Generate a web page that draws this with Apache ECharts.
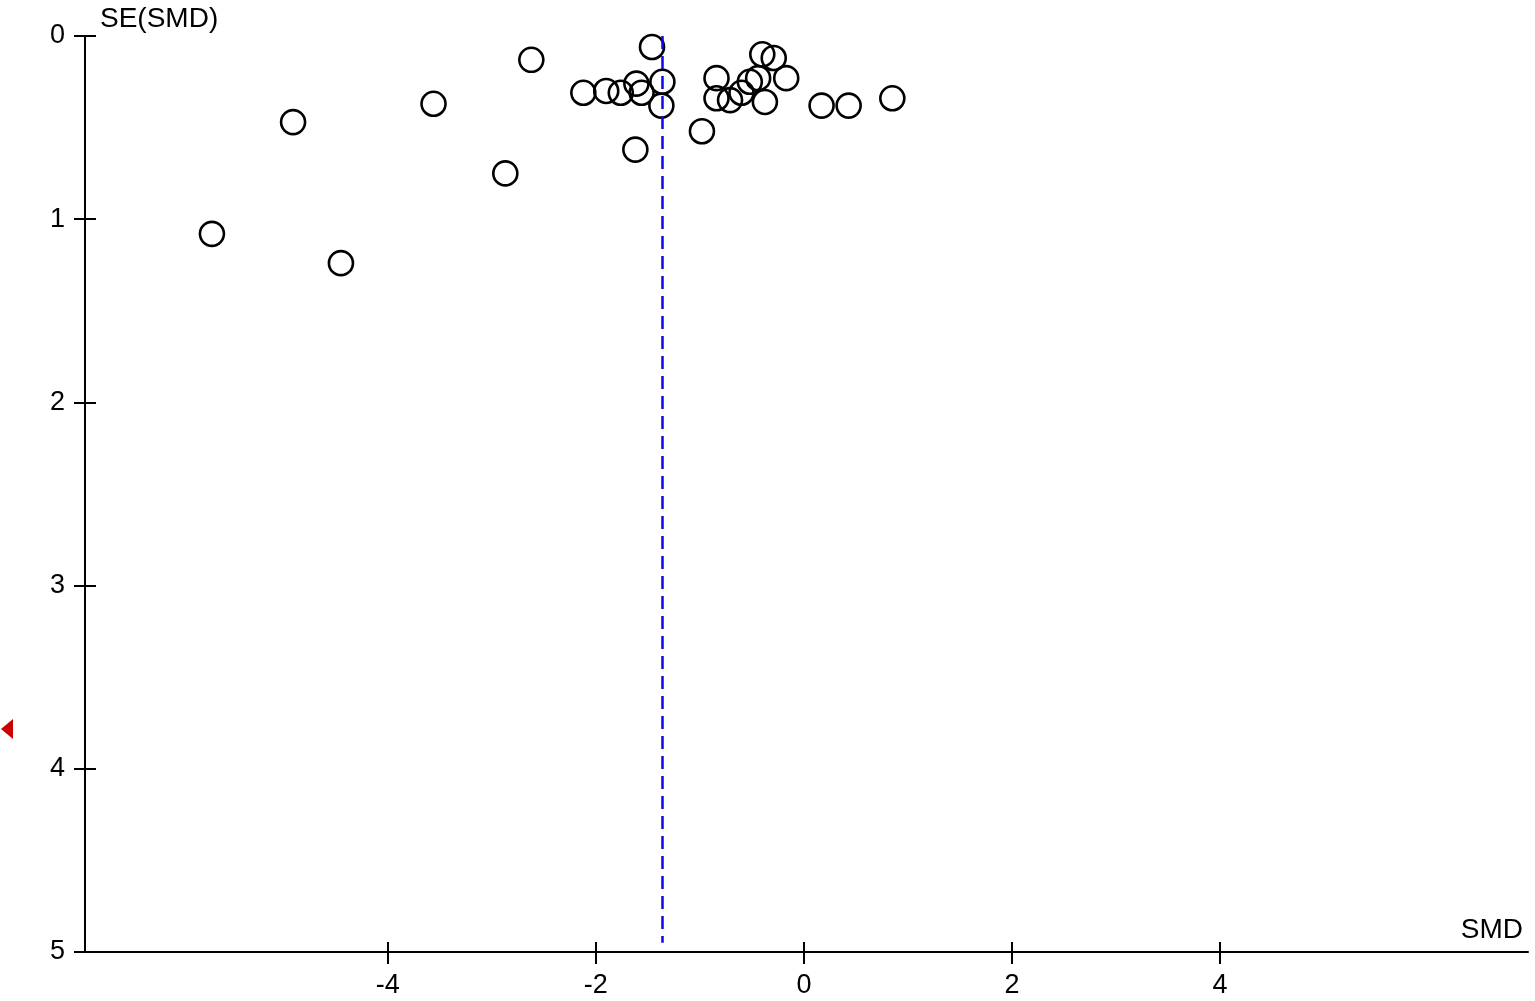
<!DOCTYPE html>
<html>
<head>
<meta charset="utf-8">
<script src="https://cdn.jsdelivr.net/npm/echarts@6/dist/echarts.min.js"></script>
<style>
  html, body { margin: 0; padding: 0; background: #fff; }
  #chart { width: 1535px; height: 1001px; }
</style>
</head>
<body>
<div id="chart"></div>
<script>
// funnel plot: SMD against SE(SMD)
var smd = [-5.69, -4.91, -4.45, -3.56, -2.87, -2.62, -2.12, -1.90, -1.76, -1.61,
           -1.56, -1.46, -1.36, -1.37, -1.62, -0.98, -0.84, -0.84, -0.71, -0.60,
           -0.52, -0.44, -0.40, -0.29, -0.17, -0.375, 0.17, 0.43, 0.85];
var se = [1.08, 0.47, 1.24, 0.37, 0.75, 0.13, 0.31, 0.30, 0.31, 0.26,
          0.31, 0.06, 0.25, 0.38, 0.62, 0.52, 0.23, 0.34, 0.35, 0.31,
          0.25, 0.23, 0.10, 0.12, 0.23, 0.36, 0.38, 0.38, 0.34];
var pooled = -1.36;
var xTicks = [-4, -2, 0, 2, 4];
var yTicks = [0, 1, 2, 3, 4, 5];
var yInnerTicks = [0, 1, 2, 3, 4];

var points = smd.map(function(v, i) { return [v, se[i]]; });

var font = "'Liberation Sans', Arial, sans-serif";
var chart = echarts.init(document.getElementById('chart'));

var option = {
    animation: false,
    backgroundColor: '#fff',
    grid: { left: 85, right: 7, top: 36, bottom: 49, containLabel: false },
    xAxis: [{
        type: 'value',
        position: 'bottom',
        min: -6.91,
        max: 6.96,
        name: 'SMD',
        nameLocation: 'end',
        nameGap: -5,
        nameTextStyle: { color: '#000', fontSize: 28, fontFamily: font,
                         align: 'right', verticalAlign: 'bottom', padding: [0, 0, 8, 0] },
        axisLine: { onZero: false, lineStyle: { color: '#000', width: 2 } },
        axisTick: { show: true, length: 12, customValues: xTicks,
                    lineStyle: { color: '#000', width: 2 } },
        axisLabel: { customValues: xTicks, margin: 20, color: '#000',
                     fontSize: 27, fontFamily: font },
        splitLine: { show: false }
    }, {
        type: 'value',
        position: 'bottom',
        min: -6.91,
        max: 6.96,
        axisLine: { show: false, onZero: false },
        axisTick: { show: true, inside: true, length: 10, customValues: xTicks,
                    lineStyle: { color: '#000', width: 2 } },
        axisLabel: { show: false },
        splitLine: { show: false }
    }],
    yAxis: [{
        type: 'value',
        position: 'left',
        inverse: true,
        min: 0,
        max: 5,
        interval: 1,
        name: 'SE(SMD)',
        nameLocation: 'start',
        nameGap: 3,
        nameTextStyle: { color: '#000', fontSize: 28, fontFamily: font,
                         align: 'left', verticalAlign: 'bottom', padding: [0, 0, 0, 15] },
        axisLine: { onZero: false, lineStyle: { color: '#000', width: 2 } },
        axisTick: { show: true, length: 11, customValues: yTicks,
                    lineStyle: { color: '#000', width: 2 } },
        axisLabel: { customValues: yTicks, margin: 20, color: '#000',
                     fontSize: 27, fontFamily: font },
        splitLine: { show: false }
    }, {
        type: 'value',
        position: 'left',
        inverse: true,
        min: 0,
        max: 5,
        axisLine: { show: false, onZero: false },
        axisTick: { show: true, inside: true, length: 11, customValues: yInnerTicks,
                    lineStyle: { color: '#000', width: 2 } },
        axisLabel: { show: false },
        splitLine: { show: false }
    }],
    graphic: [{
        type: 'polygon',
        left: 1,
        top: 719,
        shape: { points: [[0, 10], [12, 0], [12, 20]] },
        style: { fill: '#cc0000' }
    }],
    series: [{
        type: 'scatter',
        xAxisIndex: 0,
        yAxisIndex: 0,
        symbol: 'circle',
        symbolSize: 24,
        data: points,
        itemStyle: { color: 'rgba(0,0,0,0)', borderColor: '#000', borderWidth: 2.6, opacity: 1 },
        emphasis: { disabled: true },
        markLine: {
            silent: true,
            symbol: 'none',
            label: { show: false },
            lineStyle: { color: '#0a0ae6', width: 2.5, type: [13, 7] },
            data: [[{ coord: [pooled, 0] }, { coord: [pooled, 4.95] }]]
        }
    }]
};
chart.setOption(option);
</script>
</body>
</html>
